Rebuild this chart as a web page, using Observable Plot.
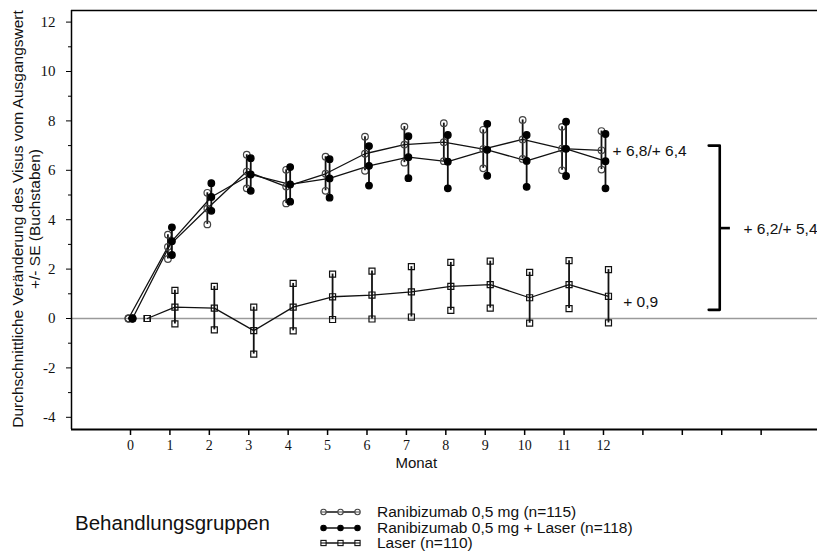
<!DOCTYPE html>
<html>
<head>
<meta charset="utf-8">
<script src="https://cdn.jsdelivr.net/npm/d3@7"></script>
<script src="https://cdn.jsdelivr.net/npm/@observablehq/plot@0.6"></script>
<style>
  html, body { margin: 0; padding: 0; background: #fff; }
  #wrap { width: 817px; height: 553px; overflow: hidden; position: relative; }
  #chart svg { display: block; }
  g[aria-label="y-axis tick label"] text, g[aria-label="y-axis tick label"] { font-family: "Liberation Serif", serif; font-size: 15px; }
  g[aria-label="x-axis tick label"] text, g[aria-label="x-axis tick label"] { font-family: "Liberation Serif", serif; font-size: 14px; }
  #legend { position: relative; width: 817px; height: 63px; font-family: "Liberation Sans", Arial, sans-serif; color: #111; }
  #legend .title { position: absolute; left: 75px; top: 23px; font-size: 20.5px; line-height: 1; }
  #legend .row { position: absolute; left: 320px; height: 16px; display: flex; align-items: center; font-size: 15.5px; line-height: 16px; }
  #legend .row svg { width: 42px; height: 12px; margin-right: 15px; }
</style>
</head>
<body>
<div id="wrap">
  <div id="chart"></div>
  <div id="legend"></div>
</div>
<script>
// ---- Data ----
const months = [0, 1, 2, 3, 4, 5, 6, 7, 8, 9, 10, 11, 12];

const ranibMean = [0, 2.9, 4.45, 5.95, 5.34, 5.86, 6.67, 7.04, 7.14, 6.86, 7.25, 6.88, 6.81];
const ranibSE   = [0, 0.49, 0.64, 0.68, 0.68, 0.69, 0.69, 0.73, 0.77, 0.78, 0.79, 0.88, 0.78];

const comboMean = [0, 3.13, 4.92, 5.83, 5.43, 5.67, 6.18, 6.53, 6.35, 6.83, 6.38, 6.87, 6.37];
const comboSE   = [0, 0.56, 0.56, 0.66, 0.70, 0.78, 0.80, 0.85, 1.08, 1.05, 1.05, 1.10, 1.10];

const laserMonths = [0.3, 1, 2, 3, 4, 5, 6, 7, 8, 9, 10, 11, 12];
const laserMean = [0, 0.46, 0.42, -0.49, 0.46, 0.88, 0.95, 1.08, 1.30, 1.37, 0.84, 1.37, 0.90];
const laserSE   = [0, 0.68, 0.88, 0.95, 0.96, 0.92, 0.97, 1.02, 0.97, 0.95, 1.03, 0.97, 1.08];

const seriesNames = ["Ranibizumab 0,5 mg (n=115)", "Ranibizumab 0,5 mg + Laser (n=118)", "Laser (n=110)"];

const xTickValues = [0, 1, 2, 3, 4, 5, 6, 7, 8, 9, 10, 11, 12, 13, 14, 15, 16];
const xTickLabelMax = 12;
const yMajorTicks = [-4, -2, 0, 2, 4, 6, 8, 10, 12];
const yMinorTicks = [-3, -1, 1, 3, 5, 7, 9, 11];

const xTitle = "Monat";
const xTitleAt = 7.25;
const yTitle = "Durchschnittliche Veränderung des Visus vom Ausgangswert\n+/- SE (Buchstaben)";
const legendTitle = "Behandlungsgruppen";

const annotText = ["+ 6,8/+ 6,4", "+ 0,9", "+ 6,2/+ 5,4"];
const annotX = [12.23, 12.5, 15.55];
const annotY = [6.77, 0.68, 3.64];

const bracketX = [14.67, 14.95, 14.95, 14.67];
const bracketY = [7.0, 7.0, 0.35, 0.35];
const bracketMidY = 3.66;
const bracketMidX = [14.95, 15.22];

// ---- Build tables ----
function rowsOf(xs, mean, se) {
  return xs.map((m, i) => ({m, v: mean[i], lo: mean[i] - se[i], hi: mean[i] + se[i]}));
}
function pointsOf(rows) {
  return rows.flatMap(r => [{m: r.m, y: r.lo}, {m: r.m, y: r.v}, {m: r.m, y: r.hi}]);
}
const ranibRows = rowsOf(months, ranibMean, ranibSE);
const comboRows = rowsOf(months, comboMean, comboSE);
const laserRows = rowsOf(laserMonths, laserMean, laserSE);

const styles = [
  {rows: ranibRows, dx: -2, symbol: "circle", fill: "none", stroke: "#444", r: 3.3},
  {rows: comboRows, dx: 2, symbol: "circle", fill: "#000", stroke: "#000", r: 3.3},
  {rows: laserRows, dx: 5, symbol: "square", fill: "none", stroke: "#111", r: 3.4}
];

const xMin = -1.497, xMax = 17.43;
const yMin = -4.494, yMax = 12.47;

const marks = [
  Plot.ruleY([0], {stroke: "#9a9a9a", strokeWidth: 1.6}),
  Plot.ruleY([yMax], {stroke: "#000", strokeWidth: 1.5}),
  Plot.ruleY([yMin], {stroke: "#000", strokeWidth: 1.8}),
  Plot.ruleX([xMin], {stroke: "#000", strokeWidth: 1.5}),
  Plot.axisY({ticks: yMajorTicks, tickSize: 5, tickPadding: 11, fontSize: 15, fontFamily: "Liberation Serif",
              tickFormat: d => String(d), stroke: "#000"}),
  Plot.axisY({ticks: yMinorTicks, tickSize: 3, text: null, stroke: "#000"}),
  Plot.axisX({ticks: xTickValues, tickSize: 6, tickPadding: 5, fontSize: 14, fontFamily: "Liberation Serif",
              tickFormat: d => d <= xTickLabelMax ? String(d) : "", stroke: "#000", strokeWidth: 1.5}),
  Plot.text([xTitle], {text: d => d, x: () => xTitleAt, frameAnchor: "bottom", dy: 38, fontSize: 15, fill: "#111"}),
  Plot.text([yTitle], {text: d => d, frameAnchor: "left", rotate: -90, dx: -45, dy: -1, textAnchor: "middle",
                       lineAnchor: "middle", lineHeight: 1.1, fontSize: 15.5, fill: "#111"})
];

for (const s of styles) {
  marks.push(Plot.line(s.rows, {x: "m", y: "v", stroke: "#111", strokeWidth: 1.3, dx: s.dx}));
}
for (const s of styles) {
  marks.push(Plot.ruleX(s.rows, {x: "m", y1: "lo", y2: "hi", stroke: "#111", strokeWidth: 1.8, dx: s.dx}));
  marks.push(Plot.dot(pointsOf(s.rows), {x: "m", y: "y", symbol: s.symbol, r: s.r, fill: s.fill,
                                         stroke: s.stroke, strokeWidth: 1.2, dx: s.dx}));
}

const bracket = bracketX.map((x, i) => ({x, y: bracketY[i]}));
marks.push(Plot.line(bracket, {x: "x", y: "y", stroke: "#000", strokeWidth: 2.6, curve: "linear"}));
marks.push(Plot.ruleY([bracketMidY], {x1: bracketMidX[0], x2: bracketMidX[1], stroke: "#000", strokeWidth: 2.6}));
marks.push(Plot.text(annotText.map((t, i) => ({t, x: annotX[i], y: annotY[i]})),
  {x: "x", y: "y", text: "t", textAnchor: "start", fontSize: 15.5, fill: "#111"}));

const chart = Plot.plot({
  width: 817,
  height: 490,
  marginLeft: 71,
  marginRight: 0,
  marginTop: 10,
  marginBottom: 61,
  style: {fontFamily: "Liberation Sans, Arial, sans-serif", fontSize: "15px", background: "white", overflow: "visible", color: "#111"},
  x: {domain: [xMin, xMax], label: null},
  y: {domain: [yMin, yMax], label: null},
  marks
});
document.getElementById("chart").append(chart);

// ---- Legend (below the SVG) ----
const legend = d3.select("#legend");
legend.append("div").attr("class", "title").text(legendTitle);
const rowCenters = [22, 37.5, 53];
styles.forEach((s, i) => {
  const row = legend.append("div").attr("class", "row").style("top", (rowCenters[i] - 8) + "px");
  const sw = row.append("svg").attr("viewBox", "0 0 42 12");
  sw.append("line").attr("x1", 3).attr("x2", 38).attr("y1", 6).attr("y2", 6)
    .attr("stroke", "#111").attr("stroke-width", 1.3);
  [3.5, 20.5, 37.5].forEach(cx => {
    if (s.symbol === "square") {
      sw.append("rect").attr("x", cx - 2.6).attr("y", 3.4).attr("width", 5.2).attr("height", 5.2)
        .attr("fill", "white").attr("stroke", "#111").attr("stroke-width", 1.1);
      sw.append("line").attr("x1", cx - 2.6).attr("x2", cx + 2.6).attr("y1", 6).attr("y2", 6)
        .attr("stroke", "#111").attr("stroke-width", 1.1);
    } else {
      sw.append("circle").attr("cx", cx).attr("cy", 6).attr("r", 2.7)
        .attr("fill", s.fill === "none" ? "white" : s.fill).attr("stroke", s.stroke).attr("stroke-width", 1.1);
      if (s.fill === "none") sw.append("line").attr("x1", cx - 2.7).attr("x2", cx + 2.7).attr("y1", 6).attr("y2", 6)
        .attr("stroke", "#444").attr("stroke-width", 1);
    }
  });
  row.append("span").text(seriesNames[i]);
});
</script>
</body>
</html>
